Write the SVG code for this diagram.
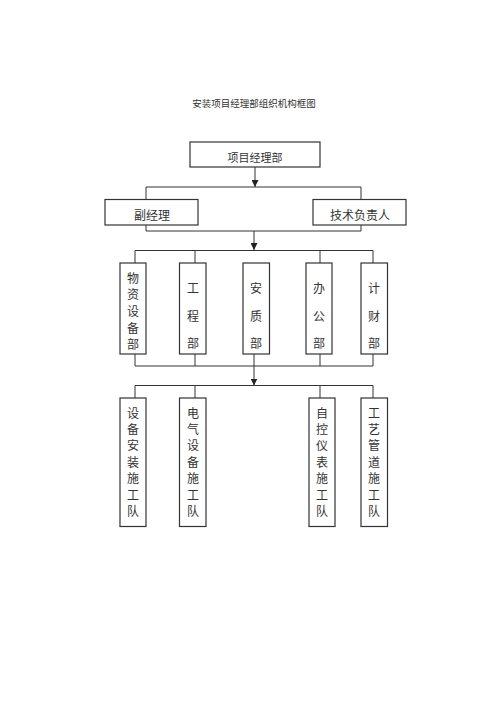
<svg xmlns="http://www.w3.org/2000/svg" width="500" height="707" viewBox="0 0 500 707">
<defs>
<style>
.box{fill:#fff;stroke:#333;stroke-width:1.2}
.ln{fill:none;stroke:#333;stroke-width:1}
.t{font-family:"Noto Sans CJK SC","Noto Sans CJK JP",sans-serif;fill:#333;text-anchor:middle;dominant-baseline:central}
.s{font-size:12px}
</style>
<marker id="arr" viewBox="0 0 10 10" refX="10" refY="5" markerWidth="7" markerHeight="7" orient="auto" markerUnits="userSpaceOnUse">
<path d="M0,0 L10,5 L0,10 z" fill="#222"/>
</marker>
</defs>
<rect width="500" height="707" fill="#fff"/>
<text class="t" x="254" y="103" font-size="9.5">安装项目经理部组织机构框图</text>

<g id="connectors">
<path class="ln" d="M255,167 V187" marker-end="url(#arr)"/>
<path class="ln" d="M146,199 V187 H361 V199"/>
<path class="ln" d="M146,225 V231 H361 V225"/>
<path class="ln" d="M254,231 V250" marker-end="url(#arr)"/>
<path class="ln" d="M135,263 V250.5 H373 V263"/>
<path class="ln" d="M195,250.5 V263 M320,250.5 V263"/>
<path class="ln" d="M135,354 V366 H373 V354 M195,354 V366 M320,354 V366"/>
<path class="ln" d="M254,354 V385.5" marker-end="url(#arr)"/>
<path class="ln" d="M135,398 V385.5 H373 V398 M195,385.5 V398 M320,385.5 V398"/>
</g>

<g id="n-pm"><rect class="box" x="190" y="142" width="130" height="25"/><text class="t" x="255" y="157" font-size="11">项目经理部</text></g>
<g id="n-deputy"><rect class="box" x="105" y="199.5" width="93" height="25.5"/><text class="t s" x="152" y="214">副经理</text></g>
<g id="n-tech"><rect class="box" x="313" y="199.5" width="93" height="25.5"/><text class="t s" x="360" y="214">技术负责人</text></g>

<g id="n-wuzi"><rect class="box" x="120" y="263" width="26" height="91"/>
<text class="t s" x="133" y="277">物</text><text class="t s" x="133" y="293">资</text><text class="t s" x="133" y="310">设</text><text class="t s" x="133" y="327">备</text><text class="t s" x="133" y="343">部</text></g>
<g id="n-gongcheng"><rect class="box" x="179.5" y="263" width="26.5" height="91"/>
<text class="t s" x="193" y="287">工</text><text class="t s" x="193" y="315">程</text><text class="t s" x="193" y="342">部</text></g>
<g id="n-anzhi"><rect class="box" x="243" y="263" width="26.5" height="91"/>
<text class="t s" x="256" y="287">安</text><text class="t s" x="256" y="315">质</text><text class="t s" x="256" y="342">部</text></g>
<g id="n-bangong"><rect class="box" x="306" y="263" width="26" height="91"/>
<text class="t s" x="319" y="287">办</text><text class="t s" x="319" y="315">公</text><text class="t s" x="319" y="342">部</text></g>
<g id="n-caiwu"><rect class="box" x="361" y="263" width="26.5" height="91"/>
<text class="t s" x="374" y="287">计</text><text class="t s" x="374" y="315">财</text><text class="t s" x="374" y="342">部</text></g>

<g id="n-team1"><rect class="box" x="120" y="398" width="26" height="128.5"/>
<text class="t s" x="133" y="412">设</text><text class="t s" x="133" y="428">备</text><text class="t s" x="133" y="444.5">安</text><text class="t s" x="133" y="461">装</text><text class="t s" x="133" y="477.5">施</text><text class="t s" x="133" y="494">工</text><text class="t s" x="133" y="510">队</text></g>
<g id="n-team2"><rect class="box" x="179.5" y="398" width="26.5" height="128.5"/>
<text class="t s" x="193" y="412">电</text><text class="t s" x="193" y="428">气</text><text class="t s" x="193" y="444.5">设</text><text class="t s" x="193" y="461">备</text><text class="t s" x="193" y="477.5">施</text><text class="t s" x="193" y="494">工</text><text class="t s" x="193" y="510">队</text></g>
<g id="n-team3"><rect class="box" x="309" y="398" width="26" height="128.5"/>
<text class="t s" x="322" y="412">自</text><text class="t s" x="322" y="428">控</text><text class="t s" x="322" y="444.5">仪</text><text class="t s" x="322" y="461">表</text><text class="t s" x="322" y="477.5">施</text><text class="t s" x="322" y="494">工</text><text class="t s" x="322" y="510">队</text></g>
<g id="n-team4"><rect class="box" x="361" y="398" width="26.5" height="128.5"/>
<text class="t s" x="374" y="412">工</text><text class="t s" x="374" y="428">艺</text><text class="t s" x="374" y="444.5">管</text><text class="t s" x="374" y="461">道</text><text class="t s" x="374" y="477.5">施</text><text class="t s" x="374" y="494">工</text><text class="t s" x="374" y="510">队</text></g>
</svg>
